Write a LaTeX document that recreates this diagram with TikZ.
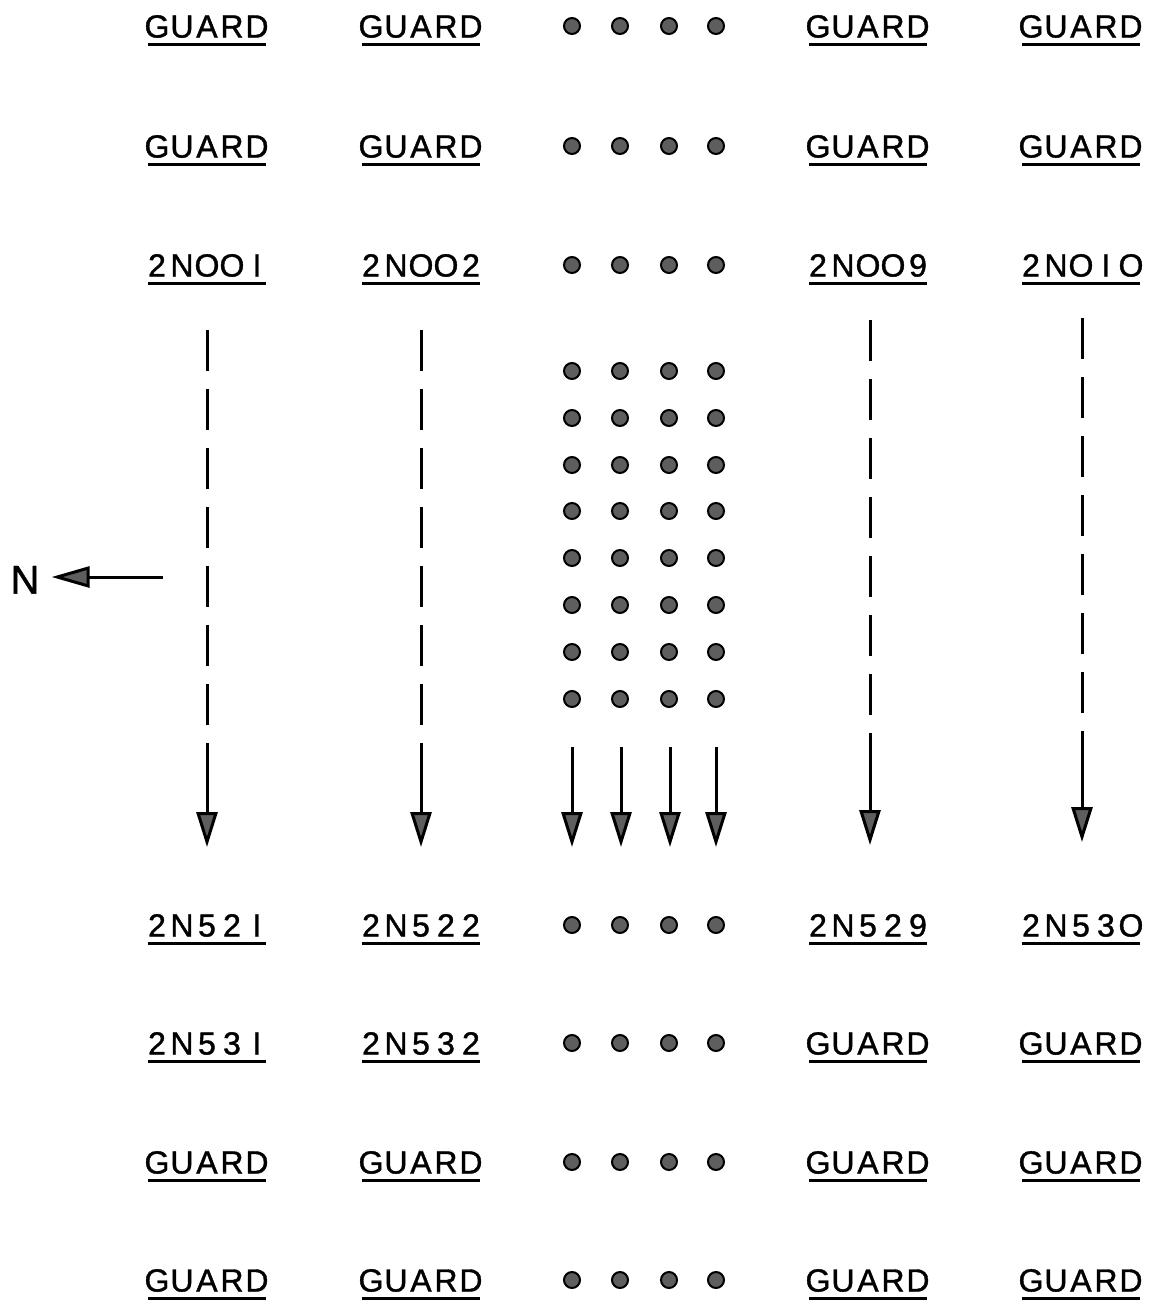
\documentclass[tikz,border=0pt]{standalone}
\usepackage{fontspec}
\setmainfont[FakeBold=1.2]{Liberation Sans}
\usetikzlibrary{arrows.meta}

% each character set in a fixed-width cell, like stencil lettering
\def\lettered#1{\letteredi#1\relax}
\def\letteredi#1{\ifx#1\relax\else\makebox[25pt]{#1}\expandafter\letteredi\fi}
\def\tagtext#1{\expandafter\lettered\expandafter{#1}}

\definecolor{stipple}{HTML}{5E5E5E}

\tikzset{
  tag/.style={font=\fontsize{32}{32}\selectfont, inner sep=0pt,
    text height=23pt, text depth=0pt},
  uline/.style={line width=3.2pt},
  dot/.style={fill=stipple, draw=black, line width=2pt},
  dashshaft/.style={line width=3pt, dash pattern=on 41pt off 18pt},
  tipshaft/.style={line width=3pt, -{Triangle[length=35pt,width=21pt,fill=stipple]}},
}

\begin{document}
\begin{tikzpicture}[x=1pt,y=-1pt]
\useasboundingbox (0,0) rectangle (1150,1302);

% labelled rows: name / y / four texts
\foreach \r/\y/\a/\b/\c/\d in {
  1/26/GUARD/GUARD/GUARD/GUARD,
  2/146/GUARD/GUARD/GUARD/GUARD,
  3/265/2NOOI/2NOO2/2NOO9/2NOIO,
  4/925/2N52I/2N522/2N529/2N53O,
  5/1043/2N53I/2N532/GUARD/GUARD,
  6/1162/GUARD/GUARD/GUARD/GUARD,
  7/1280/GUARD/GUARD/GUARD/GUARD}{
  \node[tag] (r\r c1) at (207,\y) {\tagtext{\a}};
  \node[tag] (r\r c2) at (421,\y) {\tagtext{\b}};
  \node[tag] (r\r c3) at (868,\y) {\tagtext{\c}};
  \node[tag] (r\r c4) at (1081,\y) {\tagtext{\d}};
  \foreach \k in {1,2,3,4}
    \draw[uline] ([xshift=-59pt,yshift=-7pt]r\r c\k.south) -- ([xshift=59pt,yshift=-7pt]r\r c\k.south);
  \foreach \x in {572,620,669,716}
    \fill[dot] (\x,\y) circle (8);
}

% block of dots between the numbered rows
\foreach \y in {371,418,465,511,558,605,652,699}
  \foreach \x in {572,620,669,716}
    \fill[dot] (\x,\y) circle (8);

% dashed arrows under the outer columns
\coordinate (s1) at (207,330);  \coordinate (m1) at (207,748); \coordinate (e1) at (207,847);
\coordinate (s2) at (421,330);  \coordinate (m2) at (421,748); \coordinate (e2) at (421,847);
\coordinate (s3) at (870,320);  \coordinate (m3) at (870,748); \coordinate (e3) at (870,845);
\coordinate (s4) at (1082,318); \coordinate (m4) at (1082,748); \coordinate (e4) at (1082,842);
\foreach \k in {1,2,3,4}{
  \draw[dashshaft] (s\k) -- (m\k);
  \draw[tipshaft] (m\k) -- (e\k);
}

% short arrows under the dot columns
\foreach \x [count=\i] in {572,621,670,716}{
  \coordinate (ds\i) at (\x,747);
  \coordinate (de\i) at (\x,847);
  \draw[tipshaft] (ds\i) -- (de\i);
}

% north marker
\node[font=\fontsize{40}{40}\selectfont, inner sep=0pt, text height=29pt, text depth=0pt] (north) at (25,579) {N};
\coordinate (ntail) at (163,577);
\draw[line width=3pt, -{Triangle[length=38pt,width=21pt,fill=stipple]}] (ntail) -- ([xshift=12pt]north.east |- ntail);
\end{tikzpicture}
\end{document}
